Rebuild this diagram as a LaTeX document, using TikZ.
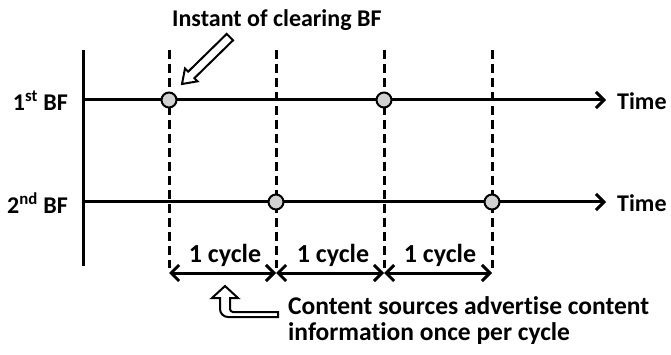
\documentclass[tikz,border=0pt]{standalone}
\usepackage{fontspec}
\setmainfont{Carlito}[Ligatures={NoCommon,NoRequired,NoContextual}]
\usetikzlibrary{arrows.meta}
\begin{document}
\begin{tikzpicture}[x=1pt,y=-1pt,
  every node/.style={font=\fontsize{24}{26}\selectfont\bfseries, inner sep=0pt},
  note/.style={font=\fontsize{25.5}{27}\selectfont\bfseries},
  span/.style={font=\fontsize{26}{28}\selectfont\bfseries},
  axis/.style={line width=3pt},
  timeline/.style={line width=3pt, -{Straight Barb[length=8pt,width=16pt,line width=3pt]}},
  cycleline/.style={line width=3pt, {Straight Barb[length=8pt,width=16pt,line width=3pt]}-{Straight Barb[length=8pt,width=16pt,line width=3pt]}},
  divider/.style={line width=3pt, dash pattern=on 9pt off 5pt},
  dot/.style={circle, draw, line width=2pt, fill=black!18, minimum size=15pt},
  hollow/.style={draw, line width=2pt, fill=white, line join=miter}]
\useasboundingbox (0,0) rectangle (671,355);

% vertical axis
\coordinate (axtop) at (83,50);
\coordinate (axbot) at (83,266);
\draw[axis] (axtop) -- (axbot);

% cycle boundaries
\foreach \n/\x in {a/169,b/276,c/384,d/492}{
  \coordinate (\n top) at (\x,50);
  \coordinate (\n bot) at (\x,268);
  \coordinate (\n one) at (\x,100);
  \coordinate (\n two) at (\x,202);
  \coordinate (\n cyc) at (\x,273);
  \draw[divider] (\n top) -- (\n bot);
}

% time axes
\coordinate (oneL) at (83,100);
\coordinate (oneR) at (606,100);
\coordinate (twoL) at (83,202);
\coordinate (twoR) at (606,202);
\draw[timeline] (oneL) -- (oneR);
\draw[timeline] (twoL) -- (twoR);

\node[anchor=west] (t1) at (617,101) {Time};
\node[anchor=west] (t2) at (617,203) {Time};
\node[anchor=east] (bf1) at (68,101) {1\textsuperscript{st} BF};
\node[anchor=east] (bf2) at (68,203) {2\textsuperscript{nd} BF};

% clearing instants
\node[dot] (c1) at (aone) {};
\node[dot] (c2) at (cone) {};
\node[dot] (c3) at (btwo) {};
\node[dot] (c4) at (dtwo) {};

% cycle spans
\draw[cycleline] (acyc) -- (bcyc);
\draw[cycleline] (bcyc) -- (ccyc);
\draw[cycleline] (ccyc) -- (dcyc);
\node[span, anchor=base] (l1) at (225,262) {1 cycle};
\node[span, anchor=base] (l2) at (333,262) {1 cycle};
\node[span, anchor=base] (l3) at (440,262) {1 cycle};

% note on the clearing instant
\node[anchor=west] (inst) at (172,20) {Instant of clearing BF};
\begin{scope}[shift={(182,84)}, rotate=44.4]
  \draw[hollow] (0,0) -- (13,-9) -- (13,-4.5) -- (67,-4.5) -- (67,4.5) -- (13,4.5) -- (13,9) -- cycle;
\end{scope}

% note on advertising
\draw[hollow] (278,312) [rounded corners=3pt] -- (230,312) [sharp corners] -- (230,298) -- (238,298) -- (225,286) -- (212,298) -- (220,298) [rounded corners=8pt] -- (220,317) [sharp corners] -- (278,317) -- cycle;
\node[note, anchor=base west] (adv1) at (288,314) {Content sources advertise content};
\node[note, anchor=base west] (adv2) at (288,340) {information once per cycle};
\end{tikzpicture}
\end{document}
